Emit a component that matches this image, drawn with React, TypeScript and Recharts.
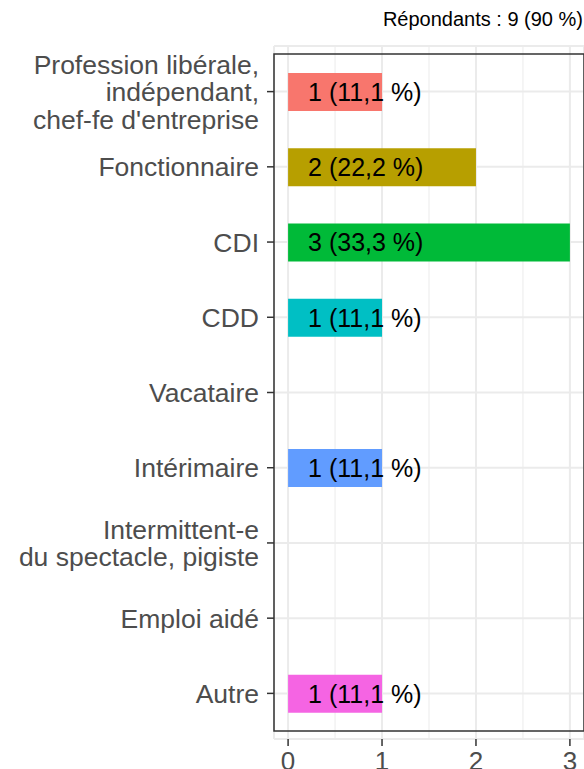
import React from 'react';
import { BarChart, Bar, XAxis, YAxis, CartesianGrid, Cell, LabelList, ReferenceArea } from 'recharts';

const categories = [
  "Profession libérale,\nindépendant,\nchef-fe d'entreprise",
  'Fonctionnaire',
  'CDI',
  'CDD',
  'Vacataire',
  'Intérimaire',
  'Intermittent-e\ndu spectacle, pigiste',
  'Emploi aidé',
  'Autre',
];
const counts = [1, 2, 3, 1, 0, 1, 0, 0, 1];
const percents = ['11,1', '22,2', '33,3', '11,1', '0', '11,1', '0', '0', '11,1'];
const barColors = ['#F8766D', '#B79F00', '#00BA38', '#00BFC4', '#999999', '#619CFF', '#999999', '#999999', '#F564E3'];
const xTicks = [0, 1, 2, 3];
const xMinorTicks = [0.5, 1.5, 2.5];
const respondentsText = 'Répondants : 9 (90 %)';

const data = categories.map((name, i) => ({
  name,
  n: counts[i],
  label: counts[i] > 0 ? `${counts[i]} (${percents[i]} %)` : '',
}));

const FONT = '"Liberation Sans", Arial, Helvetica, sans-serif';

const YTick = (props: any) => {
  const { x, y, payload } = props;
  const lines = String(payload.value).split('\n');
  const lh = 27.5;
  return (
    <text x={x} y={y} textAnchor="end" fill="#4D4D4D" fontSize={26.5} fontFamily={FONT}>
      {lines.map((l, i) => (
        <tspan key={i} x={x} y={y + (i - (lines.length - 1) / 2) * lh} dy="0.36em">
          {l}
        </tspan>
      ))}
    </text>
  );
};

const BarLabel = (props: any) => {
  const { x, y, width, height, value } = props;
  if (!value || !width) return null;
  return (
    <text x={x + 20} y={y + height / 2} dy="0.36em" textAnchor="start" fill="#000" fontSize={25} fontFamily={FONT}>
      {value}
    </text>
  );
};

export default function App() {
  return (
    <div style={{ position: 'absolute', left: 0, top: 0, width: 584, height: 769, background: '#fff', fontFamily: FONT }}>
      <div
        style={{
          position: 'absolute',
          right: 1,
          top: 9,
          fontSize: 20,
          lineHeight: '21px',
          color: '#000',
          whiteSpace: 'nowrap',
        }}
      >
        {respondentsText}
      </div>
      <BarChart
        width={584}
        height={769}
        data={data}
        layout="vertical"
        margin={{ top: 46, right: 0, bottom: 0, left: 0 }}
      >
        <CartesianGrid stroke="#EBEBEB" strokeWidth={1} horizontal={false} xAxisId="minor" />
        <CartesianGrid stroke="#EBEBEB" strokeWidth={2} />
        <XAxis
          type="number"
          domain={[-0.15, 3.15]}
          ticks={xTicks}
          allowDataOverflow
          height={30}
          axisLine={false}
          tickSize={7}
          tickMargin={6}
          tickLine={{ stroke: '#333333', strokeWidth: 1.5 }}
          tick={{ fill: '#4D4D4D', fontSize: 26, fontFamily: FONT }}
        />
        <XAxis
          xAxisId="minor"
          type="number"
          domain={[-0.15, 3.15]}
          ticks={xMinorTicks}
          allowDataOverflow
          hide
        />
        <YAxis
          type="category"
          dataKey="name"
          width={274}
          interval={0}
          padding={{ top: 8, bottom: 8 }}
          axisLine={false}
          tickSize={7}
          tickMargin={8}
          tickLine={{ stroke: '#333333', strokeWidth: 1.5 }}
          tick={<YTick />}
        />
        <Bar dataKey="n" barSize={38} isAnimationActive={false}>
          {data.map((d, i) => (
            <Cell key={i} fill={barColors[i]} />
          ))}
          <LabelList dataKey="label" content={<BarLabel />} />
        </Bar>
        <ReferenceArea
          x1={-0.15}
          x2={3.15}
          fill="none"
          fillOpacity={0}
          stroke="#333333"
          strokeWidth={1.5}
          ifOverflow="visible"
        />
      </BarChart>
    </div>
  );
}
